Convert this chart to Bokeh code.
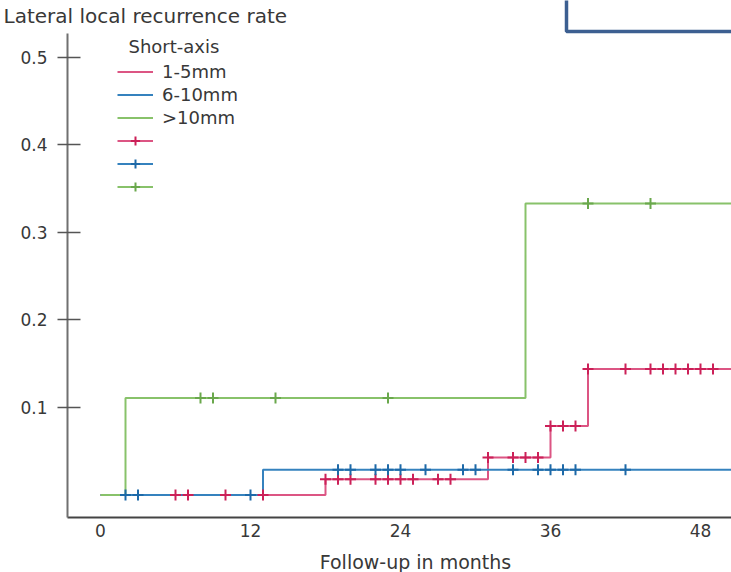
from bokeh.plotting import figure
from bokeh.models import Range1d, FixedTicker, Label, Legend, LegendItem, BoxAnnotation
from bokeh.embed import file_html
from bokeh.resources import INLINE

# ---- data ----
x_ticks = [0, 12, 24, 36, 48]
y_ticks = [0.1, 0.2, 0.3, 0.4, 0.5]
end_time = 51  # follow-up continues past the right edge

series_labels = ["1-5mm", "6-10mm", ">10mm"]

red_event_t = [0, 18, 31, 36, 39]
red_rate = [0.0, 0.018, 0.043, 0.079, 0.144]
red_censor = [6, 7, 10, 13, 18, 19, 20, 22, 23, 24, 25, 27, 28, 31, 33, 34, 35,
              36, 37, 38, 39, 42, 44, 45, 46, 47, 48, 49]

blue_event_t = [0, 13]
blue_rate = [0.0, 0.029]
blue_censor = [2, 3, 12, 19, 20, 22, 23, 24, 26, 29, 30, 33, 35, 36, 37, 38, 42]

green_event_t = [0, 2, 34]
green_rate = [0.0, 0.111, 0.333]
green_censor = [8, 9, 14, 23, 39, 44]

line_colors = ["#dc5583", "#3582be", "#88c26a"]
mark_colors = ["#cc2058", "#1d69a8", "#6aa84c"]
TEXT = "#383838"
FONT = "DejaVu Sans"

# axis extents (data units)
X_AXIS_START = -2.64
Y_AXIS_START = -0.0257
Y_AXIS_END = 0.5274


def level_at(times, rates, t):
    lvl = rates[0]
    for ti, ri in zip(times, rates):
        if ti <= t:
            lvl = ri
    return lvl


p = figure(width=731, height=572, output_backend="svg", toolbar_location=None,
           x_range=Range1d(-8.0, 50.48), y_range=Range1d(-0.08857, 0.56514),
           min_border=0, min_border_left=0, min_border_right=0,
           min_border_top=0, min_border_bottom=0)
p.outline_line_color = None
p.xgrid.visible = False
p.ygrid.visible = False
p.background_fill_color = "white"

data = [
    (red_event_t, red_rate, red_censor),
    (blue_event_t, blue_rate, blue_censor),
    (green_event_t, green_rate, green_censor),
]

line_r = {}
for idx in [0, 1, 2]:
    t, r, _ = data[idx]
    line_r[idx] = p.step(x=t + [end_time], y=r + [r[-1]], mode="after",
                         line_color=line_colors[idx], line_width=2)

cross_r = {}
for idx in [0, 1, 2]:
    t, r, c = data[idx]
    cy = [level_at(t, r, ci) for ci in c]
    cross_r[idx] = p.scatter(x=c, y=cy, marker="cross", size=11,
                             line_color=mark_colors[idx], line_width=2)

# axes drawn at fixed positions inside the full-canvas frame
p.xaxis.fixed_location = Y_AXIS_START
p.xaxis.bounds = (X_AXIS_START, 50.48)
p.xaxis.ticker = FixedTicker(ticks=x_ticks)
p.xaxis.major_tick_out = 0
p.xaxis.major_tick_in = 0
p.xaxis.minor_tick_out = 0
p.xaxis.minor_tick_in = 0
p.xaxis.axis_line_color = "#444444"
p.xaxis.axis_line_width = 2
p.xaxis.major_label_standoff = 7
p.xaxis.major_label_text_font = FONT
p.xaxis.major_label_text_font_size = "17px"
p.xaxis.major_label_text_color = TEXT

p.yaxis.fixed_location = X_AXIS_START
p.yaxis.bounds = (Y_AXIS_START, Y_AXIS_END)
p.yaxis.ticker = FixedTicker(ticks=y_ticks)
p.yaxis.major_tick_out = 10
p.yaxis.major_tick_in = 13
p.yaxis.minor_tick_out = 0
p.yaxis.minor_tick_in = 0
p.yaxis.major_tick_line_color = "#555555"
p.yaxis.major_tick_line_width = 1.5
p.yaxis.axis_line_color = "#707070"
p.yaxis.axis_line_width = 2
p.yaxis.major_label_standoff = 10
p.yaxis.major_label_text_font = FONT
p.yaxis.major_label_text_font_size = "17px"
p.yaxis.major_label_text_color = TEXT

# legend
items = []
for idx in [0, 1, 2]:
    items.append(LegendItem(label=series_labels[idx], renderers=[line_r[idx]]))
for idx in [0, 1, 2]:
    items.append(LegendItem(label=" ", renderers=[line_r[idx], cross_r[idx]]))
legend = Legend(items=items, location=(117, 374), glyph_width=36, glyph_height=23,
                label_height=23, spacing=0, padding=0, margin=0, label_standoff=9,
                label_text_font=FONT, label_text_font_size="18px", label_text_color=TEXT,
                border_line_color=None, background_fill_alpha=0)
p.add_layout(legend)

p.add_layout(Label(x=128, y=46, x_units="canvas", y_units="canvas", text="Short-axis",
                   text_font=FONT, text_font_size="18px", text_color=TEXT,
                   text_baseline="middle"))
p.add_layout(Label(x=3, y=15, x_units="canvas", y_units="canvas",
                   text="Lateral local recurrence rate",
                   text_font=FONT, text_font_size="20px", text_color=TEXT,
                   text_baseline="middle"))
p.add_layout(Label(x=415, y=561, x_units="canvas", y_units="canvas",
                   text="Follow-up in months",
                   text_font=FONT, text_font_size="19px", text_color=TEXT,
                   text_baseline="middle", text_align="center"))

p.add_layout(BoxAnnotation(left=566, right=760, top=-10, bottom=31,
                           left_units="canvas", right_units="canvas",
                           top_units="canvas", bottom_units="canvas",
                           fill_alpha=0, line_color="#3c5f91", line_alpha=1.0,
                           line_width=3.5))

open("out.html", "w").write(file_html(p, INLINE))
